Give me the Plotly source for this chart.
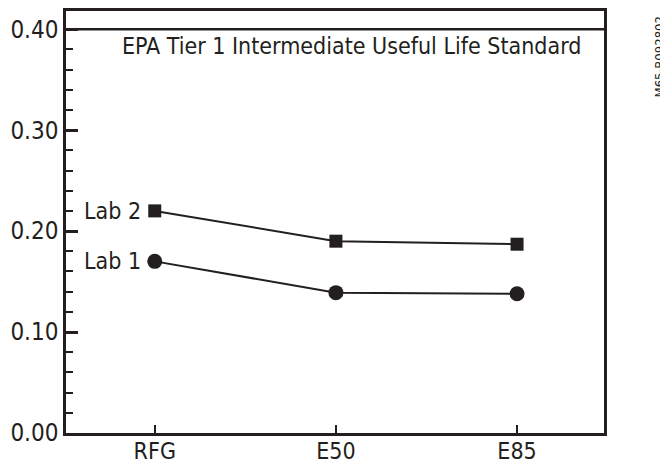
import plotly.graph_objects as go

categories = ["RFG", "E50", "E85"]
lab1 = [0.170, 0.139, 0.138]
lab2 = [0.220, 0.190, 0.187]
standard = 0.40
standard_label = "EPA Tier 1 Intermediate Useful Life Standard"
y_ticks = [0.0, 0.1, 0.2, 0.3, 0.4]
y_tick_labels = ["0.00", "0.10", "0.20", "0.30", "0.40"]
figure_id = "M65-B092802"

INK = "#231f20"
FONT = "Liberation Sans Narrow, DejaVu Sans Condensed, Arial Narrow, sans-serif"

fig = go.Figure()
fig.add_trace(go.Scatter(
    x=[0, 1, 2], y=lab2, mode="lines+markers",
    line=dict(color=INK, width=2),
    marker=dict(symbol="square", size=13, color=INK),
    name="Lab 2", showlegend=False))
fig.add_trace(go.Scatter(
    x=[0, 1, 2], y=lab1, mode="lines+markers",
    line=dict(color=INK, width=2),
    marker=dict(symbol="circle", size=15, color=INK),
    name="Lab 1", showlegend=False))

fig.add_shape(type="line", xref="paper", yref="y", x0=0, x1=1,
              y0=standard, y1=standard, line=dict(color=INK, width=2.5))

fig.add_annotation(x=0.5, xref="paper", xshift=16, y=standard, yref="y", yanchor="top",
                   yshift=-2, text=standard_label, showarrow=False,
                   font=dict(family=FONT, size=23, color=INK))
fig.add_annotation(x=0, y=lab2[0], xanchor="right", xshift=-12, text="Lab 2",
                   showarrow=False, font=dict(family=FONT, size=23, color=INK))
fig.add_annotation(x=0, y=lab1[0], xanchor="right", xshift=-12, text="Lab 1",
                   showarrow=False, font=dict(family=FONT, size=23, color=INK))
fig.add_annotation(x=1, xref="paper", xanchor="center", yanchor="middle", xshift=55,
                   y=0.372, yref="y", text=figure_id, textangle=-90, showarrow=False,
                   font=dict(family=FONT, size=13, color=INK))

fig.update_xaxes(
    range=[-0.49, 2.48], tickvals=[0, 1, 2], ticktext=categories,
    ticks="inside", ticklen=8, tickwidth=2, tickcolor=INK,
    showline=True, linecolor=INK, linewidth=2.5, mirror=True,
    showgrid=False, zeroline=False, automargin=False, ticklabelstandoff=-4,
    tickfont=dict(family=FONT, size=23, color=INK))
fig.update_yaxes(
    range=[0, 0.418], tickvals=y_ticks, ticktext=y_tick_labels,
    ticks="inside", ticklen=12, tickwidth=2.5, tickcolor=INK,
    minor=dict(dtick=0.02, tick0=0, ticks="inside", ticklen=7, tickwidth=2, tickcolor=INK),
    showline=True, linecolor=INK, linewidth=2.5, mirror=True,
    showgrid=False, zeroline=False, automargin=False,
    tickfont=dict(family=FONT, size=24, color=INK))

fig.update_layout(
    width=660, height=460,
    margin=dict(l=58, r=64, t=3, b=35),
    paper_bgcolor="white", plot_bgcolor="white")

fig.write_html("out.html")
